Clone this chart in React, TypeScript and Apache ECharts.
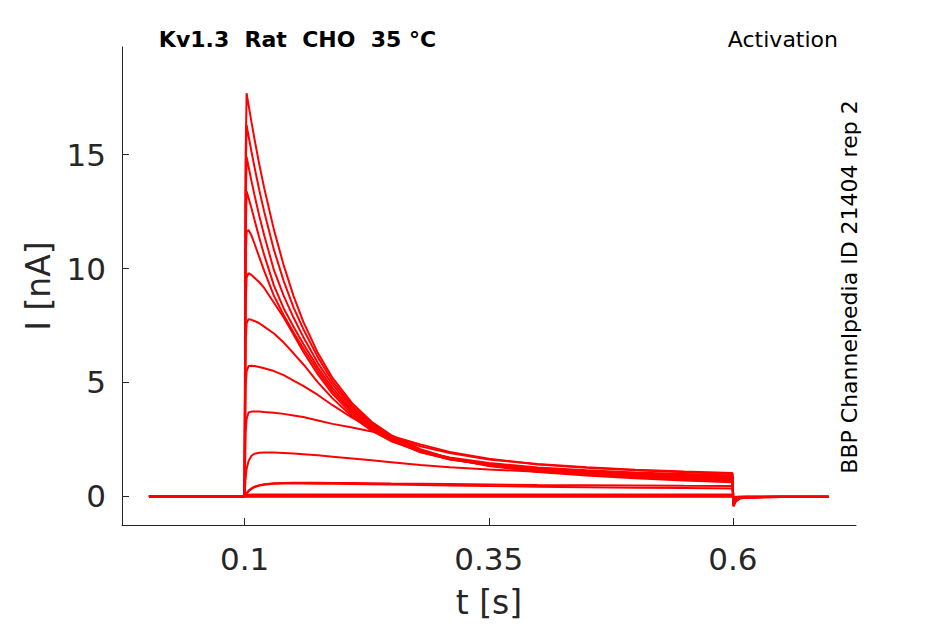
import React, { useEffect, useRef } from "react";
import * as echarts from "echarts";

// time samples [s]
const TIME = [0.002, 0.0995, 0.1, 0.101, 0.102, 0.104, 0.107, 0.11, 0.115, 0.12, 0.13, 0.14, 0.15, 0.16, 0.175, 0.19, 0.21, 0.23, 0.25, 0.28, 0.31, 0.35, 0.4, 0.45, 0.5, 0.55, 0.5995, 0.6005, 0.603, 0.607, 0.615, 0.65, 0.698];

// current traces [nA], one per voltage step
const I_A = [0, 0, 1.0, 15.0, 17.7, 17.18, 16.43, 15.7, 14.57, 13.54, 11.7, 10.14, 8.8, 7.67, 6.29, 5.2, 4.09, 3.27, 2.69, 2.07, 1.67, 1.33, 1.07, 0.91, 0.79, 0.69, 0.62, -0.45, -0.22, -0.1, -0.05, -0.03, -0.03];
const I_B = [0, 0, 0.9, 14.0, 16.3, 15.82, 15.13, 14.47, 13.44, 12.5, 10.82, 9.45, 8.3, 7.35, 6.1, 5.05, 3.98, 3.2, 2.64, 2.03, 1.66, 1.35, 1.11, 0.95, 0.84, 0.75, 0.68, -0.42, -0.2, -0.09, -0.05, -0.03, -0.03];
const I_C = [0, 0, 0.8, 12.8, 14.9, 14.47, 13.84, 13.24, 12.31, 11.46, 9.93, 8.8, 7.85, 7.0, 5.85, 4.9, 3.88, 3.13, 2.58, 1.98, 1.64, 1.36, 1.14, 1.0, 0.89, 0.8, 0.72, -0.4, -0.19, -0.09, -0.05, -0.03, -0.03];
const I_D = [0, 0, 0.7, 11.5, 13.4, 13.1, 12.65, 12.15, 11.35, 10.6, 9.25, 8.25, 7.45, 6.7, 5.65, 4.75, 3.78, 3.06, 2.53, 1.95, 1.62, 1.37, 1.16, 1.03, 0.93, 0.85, 0.78, -0.38, -0.18, -0.08, -0.04, -0.03, -0.03];
const I_E = [0, 0, 0.6, 10.5, 11.6, 11.7, 11.45, 11.1, 10.5, 9.9, 8.8, 7.95, 7.2, 6.5, 5.5, 4.62, 3.7, 3.0, 2.48, 1.93, 1.63, 1.39, 1.19, 1.06, 0.96, 0.89, 0.83, -0.36, -0.18, -0.08, -0.04, -0.03, -0.03];
const I_F = [0, 0, 0.5, 8.5, 9.6, 9.8, 9.72, 9.6, 9.4, 9.15, 8.5, 7.85, 7.1, 6.35, 5.35, 4.5, 3.6, 2.93, 2.45, 1.95, 1.66, 1.42, 1.23, 1.1, 1.0, 0.93, 0.87, -0.35, -0.17, -0.08, -0.04, -0.03, -0.03];
const I_G = [0, 0, 0.4, 6.8, 7.6, 7.78, 7.75, 7.7, 7.6, 7.45, 7.15, 6.75, 6.28, 5.8, 5.0, 4.3, 3.5, 2.88, 2.42, 1.98, 1.7, 1.46, 1.27, 1.14, 1.05, 0.98, 0.91, -0.33, -0.16, -0.07, -0.04, -0.03, -0.03];
const I_H = [0, 0, 0.3, 4.8, 5.5, 5.72, 5.73, 5.72, 5.68, 5.62, 5.5, 5.32, 5.08, 4.85, 4.45, 4.0, 3.45, 2.98, 2.65, 2.28, 1.95, 1.65, 1.4, 1.25, 1.14, 1.06, 0.98, -0.32, -0.15, -0.07, -0.04, -0.03, -0.03];
const I_I = [0, 0, 0.2, 2.8, 3.4, 3.68, 3.72, 3.72, 3.72, 3.7, 3.67, 3.62, 3.55, 3.48, 3.33, 3.18, 3.02, 2.85, 2.6, 2.2, 1.9, 1.62, 1.42, 1.28, 1.17, 1.09, 1.02, -0.3, -0.14, -0.06, -0.03, -0.02, -0.02];
const I_J = [0, 0, 0.1, 0.8, 1.2, 1.55, 1.78, 1.87, 1.91, 1.92, 1.92, 1.9, 1.88, 1.85, 1.8, 1.74, 1.66, 1.58, 1.5, 1.38, 1.28, 1.18, 1.08, 1.01, 0.96, 0.92, 0.88, -0.25, -0.12, -0.06, -0.03, -0.02, -0.02];
const I_K = [0, 0, 0, 0.1, 0.15, 0.25, 0.35, 0.42, 0.49, 0.53, 0.57, 0.58, 0.59, 0.59, 0.59, 0.58, 0.58, 0.57, 0.56, 0.55, 0.54, 0.52, 0.5, 0.49, 0.48, 0.46, 0.45, -0.2, -0.1, -0.05, -0.03, -0.02, -0.02];
const I_L = [0, 0, 0, 0.08, 0.12, 0.22, 0.32, 0.4, 0.47, 0.51, 0.55, 0.56, 0.56, 0.56, 0.55, 0.55, 0.54, 0.53, 0.52, 0.5, 0.48, 0.45, 0.42, 0.4, 0.38, 0.36, 0.34, -0.18, -0.09, -0.05, -0.03, -0.02, -0.02];
const I_M = [0, 0, 0, 0.04, 0.06, 0.07, 0.08, 0.08, 0.08, 0.08, 0.08, 0.08, 0.08, 0.08, 0.08, 0.08, 0.08, 0.08, 0.08, 0.08, 0.08, 0.08, 0.08, 0.08, 0.08, 0.08, 0.08, -0.08, -0.05, -0.03, -0.02, -0.02, -0.02];
const I_N = [0, 0, 0, 0.02, 0.03, 0.03, 0.03, 0.03, 0.03, 0.03, 0.03, 0.03, 0.03, 0.03, 0.03, 0.03, 0.03, 0.03, 0.03, 0.03, 0.03, 0.03, 0.03, 0.03, 0.03, 0.03, 0.03, -0.06, -0.04, -0.03, -0.02, -0.02, -0.02];
const I_O = [0, 0, 0, 0, 0, 0, 0, 0, 0, 0, 0, 0, 0, 0, 0, 0, 0, 0, 0, 0, 0, 0, 0, 0, 0, 0, 0, -0.04, -0.03, -0.02, -0.02, -0.02, -0.02];
const I_P = [0, 0, 0, -0.02, -0.02, -0.02, -0.02, -0.02, -0.02, -0.02, -0.02, -0.02, -0.02, -0.02, -0.02, -0.02, -0.02, -0.02, -0.02, -0.02, -0.02, -0.02, -0.02, -0.02, -0.02, -0.02, -0.02, -0.04, -0.03, -0.02, -0.02, -0.02, -0.02];

const TRACES = [I_A, I_B, I_C, I_D, I_E, I_F, I_G, I_H, I_I, I_J, I_K, I_L, I_M, I_N, I_O, I_P];

const X_TICKS = [0.1, 0.35, 0.6];
const Y_TICKS = [0, 5, 10, 15];
const X_NAME = "t [s]";
const Y_NAME = "I [nA]";
const TITLE = "Kv1.3  Rat  CHO  35 °C";
const PROTOCOL = "Activation";
const SOURCE = "BBP Channelpedia ID 21404 rep 2";

export default function App() {
  const ref = useRef<HTMLDivElement>(null);
  useEffect(() => {
    const chart = echarts.init(ref.current!, null, { renderer: "svg" });
    const font = "'DejaVu Sans', sans-serif";
    const axisColor = "#262626";
    chart.setOption({
      animation: false,
      grid: { left: 122, top: 47, width: 734, height: 479, containLabel: false },
      xAxis: {
        type: "value",
        min: -0.0256,
        max: 0.726,
        name: X_NAME,
        nameLocation: "middle",
        nameGap: 61,
        nameTextStyle: { fontFamily: font, fontSize: 33, color: axisColor },
        axisLine: { onZero: false, lineStyle: { color: axisColor, width: 1 } },
        axisTick: { inside: true, length: 7, customValues: X_TICKS, lineStyle: { color: axisColor } },
        axisLabel: { customValues: X_TICKS, margin: 18, fontFamily: font, fontSize: 31, color: axisColor, formatter: (v: number) => String(v) },
        splitLine: { show: false },
      },
      yAxis: {
        type: "value",
        min: -1.26,
        max: 19.73,
        name: Y_NAME,
        nameLocation: "middle",
        nameGap: 67,
        nameTextStyle: { fontFamily: font, fontSize: 33, color: axisColor },
        axisLine: { show: true, onZero: false, lineStyle: { color: axisColor, width: 1 } },
        axisTick: { show: true, inside: true, length: 7, customValues: Y_TICKS, lineStyle: { color: axisColor } },
        axisLabel: { customValues: Y_TICKS, margin: 16, fontFamily: font, fontSize: 31, color: axisColor, formatter: (v: number) => String(v) },
        splitLine: { show: false },
      },
      series: TRACES.map((tr, k) => ({
        type: "line",
        name: "trace" + k,
        data: TIME.map((t, i) => [t, tr[i]]),
        showSymbol: false,
        symbol: "none",
        lineStyle: { color: "#ff0000", width: 2 },
        itemStyle: { color: "#ff0000" },
        silent: true,
      })),
      graphic: [
        {
          type: "text",
          x: 297.5,
          y: 39,
          style: { text: TITLE, fontFamily: font, fontSize: 22, fontWeight: "bold", fill: "#000", align: "center", verticalAlign: "middle" },
        },
        {
          type: "text",
          x: 838,
          y: 39,
          style: { text: PROTOCOL, fontFamily: font, fontSize: 22, fill: "#000", align: "right", verticalAlign: "middle" },
        },
        {
          type: "text",
          x: 849,
          y: 287,
          rotation: Math.PI / 2,
          style: { text: SOURCE, fontFamily: font, fontSize: 22, fill: "#000", align: "center", verticalAlign: "middle" },
        },
      ],
    });
    return () => chart.dispose();
  }, []);
  return <div ref={ref} style={{ position: "absolute", left: 0, top: 0, width: 945, height: 624, background: "#fff" }} />;
}
